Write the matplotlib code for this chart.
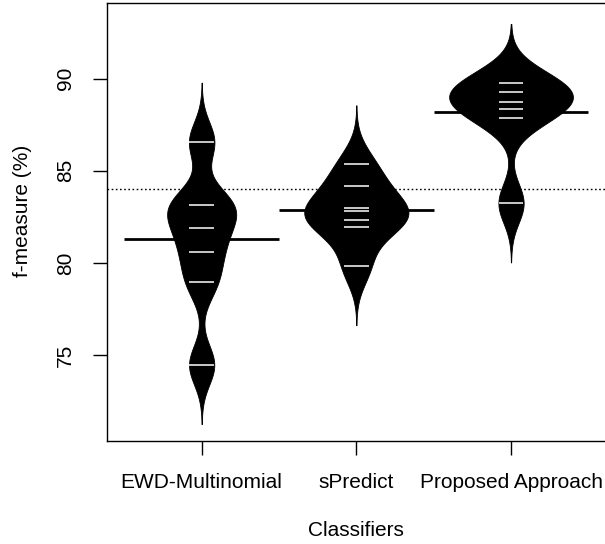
import numpy as np
import matplotlib
matplotlib.use("Agg")
import matplotlib.pyplot as plt

# ---- data ----
# (one value in the first and third group appears twice: the lines overlap,
#  which is what pulls the bean means up to the drawn mean lines)
classifiers = ["EWD-Multinomial", "sPredict", "Proposed Approach"]
ewd_values = [86.58, 83.14, 83.14, 81.89, 80.59, 78.95, 74.46]
spredict_values = [85.35, 84.16, 83.00, 82.82, 82.31, 81.93, 79.83]
proposed_values = [89.77, 89.77, 89.26, 88.75, 88.37, 87.88, 83.24]
group_means = [81.30, 82.86, 88.19]
overall_mean = 84.01

yticks = [75, 80, 85, 90]

# ---- bean settings (beanplot defaults-ish) ----
BW = 1.07        # common kernel bandwidth
CUT = 3.0        # density drawn to +/- CUT*BW beyond the data
MAXWIDTH = 0.8   # full width of the widest bean
LL = 0.16        # length of the per-observation lines
MEANWIDTH = 1.0  # length of the bean mean line


def _kde(vals, grid, bw):
    v = np.asarray(vals)[:, None]
    z = (grid[None, :] - v) / bw
    return np.exp(-0.5 * z ** 2).sum(axis=0) / (len(vals) * bw * np.sqrt(2 * np.pi))


groups = [ewd_values, spredict_values, proposed_values]
grids, dens = [], []
for vals in groups:
    g = np.linspace(min(vals) - CUT * BW, max(vals) + CUT * BW, 400)
    grids.append(g)
    dens.append(_kde(vals, g, BW))
dmax = max(d.max() for d in dens)

plt.rcParams["font.family"] = ["Liberation Sans", "DejaVu Sans"]

fig = plt.figure(figsize=(6.05, 5.44), dpi=100)
ax = fig.add_axes([107 / 605, (544 - 440.7) / 544, 498.7 / 605, 438 / 544])

for i, (vals, g, d) in enumerate(zip(groups, grids, dens)):
    x0 = i + 1
    half = d / dmax * MAXWIDTH / 2
    ax.fill_betweenx(g, x0 - half, x0 + half, color="black", lw=0.6, zorder=2)
    for v in sorted(set(vals)):
        ax.plot([x0 - LL / 2, x0 + LL / 2], [v, v], color="white", lw=1.1,
                solid_capstyle="butt", zorder=3)
    ax.plot([x0 - MEANWIDTH / 2, x0 + MEANWIDTH / 2], [group_means[i]] * 2,
            color="black", lw=2, solid_capstyle="butt", zorder=1)

ax.axhline(overall_mean, color="black", lw=1, ls=(0, (1.2, 1.8)), zorder=0)

ax.set_xlim(0.388, 3.612)
ax.set_ylim(70.35, 94.13)
ax.set_xticks([1, 2, 3])
ax.set_xticklabels(classifiers)
ax.set_yticks(yticks)
ax.set_yticklabels([str(t) for t in yticks], rotation=90, va="center")

for s in ["left", "top", "bottom"]:
    ax.spines[s].set_linewidth(1.0)
ax.spines["right"].set_visible(False)
ax.tick_params(axis="x", length=10, width=1, labelsize=15, pad=13)
ax.tick_params(axis="y", length=10, width=1, labelsize=15, pad=13)

ax.set_xlabel("Classifiers", fontsize=15)
ax.set_ylabel("f-measure (%)", fontsize=15)
ax.xaxis.set_label_coords(0.5, -0.183)
ax.yaxis.set_label_coords(-0.15, 0.524)

fig.savefig("out.png", dpi=100)
